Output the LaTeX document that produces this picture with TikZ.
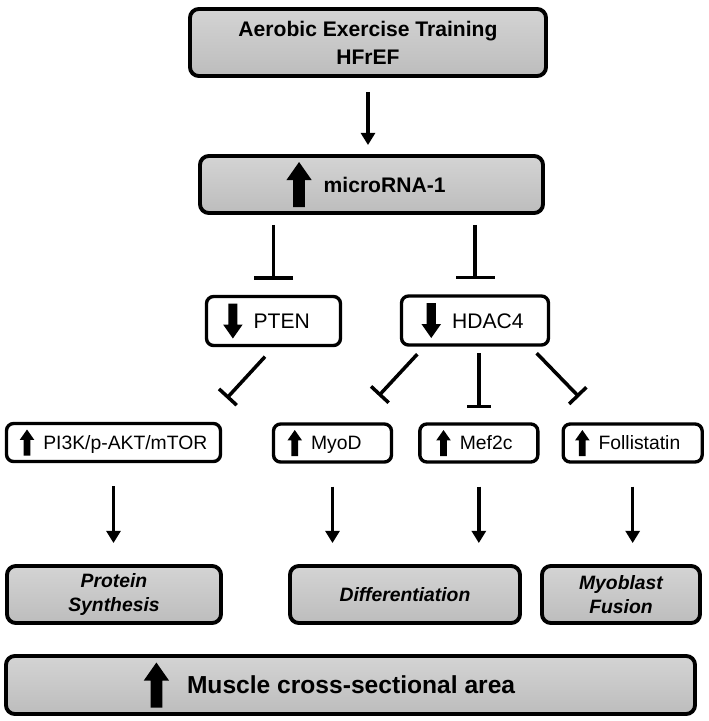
\documentclass[tikz,border=0pt]{standalone}
\usepackage{fontspec}
\setmainfont{Liberation Sans}
\usetikzlibrary{arrows.meta,positioning}

% block arrow drawn inside the box texts (#1 width scale, #2 height scale)
\newcommand{\levelarrow}[2]{\tikz[baseline=-0.36em, x=#1cm, y=#2cm]
  \fill[black, sharp corners] (-0.13,-0.5) -- (0.13,-0.5) -- (0.13,0.1) -- (0.28,0.1)
    -- (0,0.5) -- (-0.28,0.1) -- (-0.13,0.1) -- cycle;}
\newcommand{\upmark}[1]{\levelarrow{#1}{#1}}
\newcommand{\downmark}[1]{\levelarrow{#1}{-#1}}

\begin{document}
\begin{tikzpicture}[
    greybox/.style={draw, line width=2.2pt, rounded corners=5pt, top color=gray!34,
                    bottom color=gray!52, align=center, inner sep=0pt},
    whitebox/.style={draw, line width=1.9pt, rounded corners=4pt, fill=white,
                     align=center, inner sep=0pt, minimum height=0.76cm,
                     font=\fontsize{11}{13}\selectfont},
    genebox/.style={whitebox, minimum height=0.98cm, font=\fontsize{12}{14}\selectfont},
    outcome/.style={greybox, minimum height=1.14cm,
                    font=\fontsize{11}{13.5}\selectfont\bfseries\itshape},
    actarrow/.style={-{Triangle[length=7pt, width=8pt]}, line width=2pt,
                     shorten <=0.46cm, shorten >=0.42cm},
    inhib/.style={-{Bar[width=#1]}, line width=2pt},
  ]
  \useasboundingbox (0,0) rectangle (14.18,-14.42);

  % === Stimulus ===
  \node[greybox, minimum width=7.12cm, minimum height=1.34cm,
        font=\fontsize{12}{16}\selectfont\bfseries] (aet) at (7.36,-0.85)
        {Aerobic Exercise Training\\HFrEF};
  \node[greybox, minimum width=6.86cm, minimum height=1.14cm,
        font=\fontsize{12}{14}\selectfont\bfseries] (mir) at (7.43,-3.69)
        {\upmark{0.9}\hspace{0.24cm}microRNA-1\hspace*{0.22cm}};

  % === Direct targets ===
  \node[genebox, minimum width=2.68cm] (pten) at (5.47,-6.42)
        {\downmark{0.7}\hspace{0.22cm}PTEN\hspace*{0.28cm}};
  \node[genebox, minimum width=2.94cm] (hdac) at (9.5,-6.41)
        {\downmark{0.7}\hspace{0.22cm}HDAC4\hspace*{0.1cm}};

  % === Downstream ===
  \node[whitebox, minimum width=4.28cm] (pik) at (2.27,-8.85)
        {\upmark{0.52}\hspace{0.18cm}PI3K/p-AKT/mTOR};
  \node[whitebox, minimum width=2.36cm] (myod) at (6.65,-8.86)
        {\upmark{0.52}\hspace{0.18cm}MyoD\hspace*{0.32cm}};
  \node[whitebox, minimum width=2.36cm, right=0.5cm of myod] (mef)
        {\upmark{0.52}\hspace{0.18cm}Mef2c\hspace*{0.18cm}};
  \node[whitebox, minimum width=2.78cm, right=0.44cm of mef] (fst)
        {\upmark{0.52}\hspace{0.18cm}Follistatin\hspace*{0.2cm}};

  % === Outcomes ===
  \node[outcome, minimum width=4.28cm] (prot) at (2.28,-11.89) {Protein\\Synthesis};
  \node[outcome, minimum width=4.6cm] (diff) at (8.1,-11.89) {Differentiation};
  \node[outcome, minimum width=3.16cm] (fus) at (12.42,-11.89) {Myoblast\\Fusion};
  \node[greybox, minimum width=13.78cm, minimum height=1.16cm,
        font=\fontsize{14}{16}\selectfont\bfseries] (mus) at (7.01,-13.7)
        {\upmark{0.9}\hspace{0.36cm}Muscle cross-sectional area\hspace*{0.84cm}};

  % Activation arrows
  \draw[actarrow, shorten <=0.28cm, shorten >=0.18cm] (aet.south) -- (aet.south |- mir.north);
  \draw[actarrow] (pik.south) -- (pik.south |- prot.north);
  \draw[actarrow] (myod.south) -- (myod.south |- diff.north);
  \draw[actarrow] (mef.south) -- (mef.south |- diff.north);
  \draw[actarrow] (fst.south) -- (fst.south |- fus.north);

  % Inhibition
  \draw[inhib=0.78cm, shorten <=0.2cm, shorten >=0.3cm] (pten.north |- mir.south) -- (pten.north);
  \draw[inhib=0.78cm, shorten <=0.2cm, shorten >=0.3cm] (hdac.north |- mir.south) -- (hdac.north);
  \draw[inhib=0.48cm] ([shift={(-0.17,-0.19)}]pten.south) -- ([shift={(0.09,0.47)}]pik.north east);
  \draw[inhib=0.48cm] ([shift={(0.35,-0.15)}]hdac.south west) -- ([shift={(-0.29,0.53)}]myod.north east);
  \draw[inhib=0.48cm, shorten <=0.13cm, shorten >=0.28cm] (hdac.south -| mef.north) -- (mef.north);
  \draw[inhib=0.48cm] ([shift={(-0.27,-0.13)}]hdac.south east) -- ([shift={(0.35,0.51)}]fst.north west);

\end{tikzpicture}
\end{document}
